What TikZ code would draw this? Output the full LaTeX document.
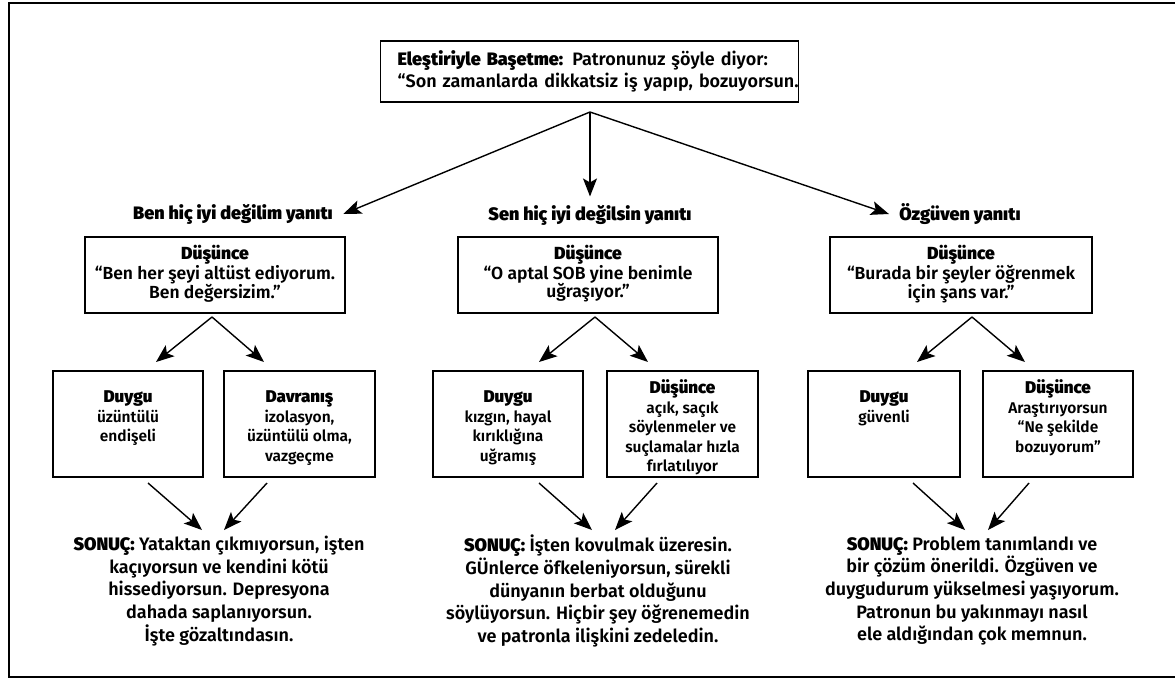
\documentclass[tikz,border=0pt]{standalone}
\usepackage{fontspec}
\IfFontExistsTF{Fira Sans SemiBold}{%
  \IfFontExistsTF{Fira Sans Black}{%
    \setmainfont{Fira Sans SemiBold}[BoldFont={Fira Sans Black}]}{%
    \setmainfont{Fira Sans SemiBold}[BoldFont={Fira Sans Bold}]}}{%
  \setmainfont{Fira Sans}[UprightFeatures={FakeBold=1.5}]}
\usetikzlibrary{arrows.meta,calc}
\newcommand{\inbox}[4]{\begin{minipage}[c][#1][t]{#2}\centering\vspace*{#3}#4\end{minipage}}
\newcommand{\hd}[1]{{\fontsize{17}{19.5}\selectfont\bfseries #1}}
\begin{document}
\begin{tikzpicture}[x=1pt,y=-1pt,
  arr/.style={line width=1.4pt, -{Stealth[length=18pt,width=14pt,inset=4pt]}},
  box/.style={draw, line width=1.4pt, inner sep=0pt},
  lab/.style={font=\fontsize{18}{21}\selectfont\bfseries},
  thought/.style={box, font=\fontsize{17.5}{18.5}\selectfont},
  small/.style={box, font=\fontsize{15.5}{19.5}\selectfont},
  res/.style={align=center, font=\fontsize{18}{22.7}\selectfont}]
\useasboundingbox (0,0) rectangle (1175,678);
\draw[line width=2pt] (9,3) rectangle (1180,677);

% title
\node[box, anchor=west, text width=418pt, minimum height=61pt, align=left,
      font=\fontsize{18}{22}\selectfont] (top) at (380,71.5)
  {\hspace*{17pt}\mbox{\textbf{Eleştiriyle Başetme:} Patronunuz şöyle diyor:}\\
   \hspace*{17pt}\mbox{“Son zamanlarda dikkatsiz iş yapıp, bozuyorsun.}};
\coordinate (apex) at (590,112);

% response labels
\node[lab] (l1) at (233,214) {Ben hiç iyi değilim yanıtı};
\node[lab] (l2) at (590,215) {Sen hiç iyi değilsin yanıtı};
\node[lab] (l3) at (960,214) {Özgüven yanıtı};
\draw[arr] (apex) -- ([xshift=7pt]l1.east);
\draw[arr] (apex) -- ([yshift=5pt]l2.north);
\draw[arr] (apex) -- ([xshift=-7pt]l3.west);

% thought boxes
\node[thought] (t1) at (215,275) {\inbox{76pt}{260pt}{8pt}{\textbf{Düşünce}\\“Ben her şeyi altüst ediyorum.\\Ben değersizim.”}};
\node[thought] (t2) at (588,275) {\inbox{76pt}{260pt}{8pt}{\textbf{Düşünce}\\“O aptal SOB yine benimle\\uğraşıyor.”}};
\node[thought] (t3) at (961,275) {\inbox{76pt}{262pt}{8pt}{\textbf{Düşünce}\\“Burada bir şeyler öğrenmek\\için şans var.”}};

% lower boxes
\node[small] (a1) at (128,424) {\inbox{106pt}{150pt}{20pt}{\hd{Duygu}\\üzüntülü\\endişeli}};
\node[small] (a2) at (299.5,424) {\inbox{106pt}{151pt}{20pt}{\hd{Davranış}\\izolasyon,\\üzüntülü olma,\\vazgeçme}};
\node[small] (b1) at (508,424) {\inbox{106pt}{150pt}{20pt}{\hd{Duygu}\\kızgın, hayal\\kırıklığına\\uğramış}};
\node[small] (b2) at (682.5,424) {\inbox{106pt}{151pt}{9pt}{\hd{Düşünce}\\açık, saçık\\söylenmeler ve\\suçlamalar hızla\\fırlatılıyor}};
\node[small] (c1) at (884,424) {\inbox{106pt}{152pt}{20pt}{\hd{Duygu}\\güvenli}};
\node[small] (c2) at (1058,424) {\inbox{106pt}{150pt}{9pt}{\hd{Düşünce}\\Araştırıyorsun\\“Ne şekilde\\bozuyorum”}};

% branch arrows
\coordinate (ta) at (212,317);
\coordinate (tb) at (595,317);
\coordinate (tc) at (972,317);
\coordinate (a1n) at (156,362);
\coordinate (a2n) at (264,362);
\coordinate (b1n) at (539,362);
\coordinate (b2n) at (648,362);
\coordinate (c1n) at (917,362);
\coordinate (c2n) at (1025,362);
\draw[arr] (ta) -- (a1n);
\draw[arr] (ta) -- (a2n);
\draw[arr] (tb) -- (b1n);
\draw[arr] (tb) -- (b2n);
\draw[arr] (tc) -- (c1n);
\draw[arr] (tc) -- (c2n);

% results
\node[res] (r1) at (219,591) {\textbf{SONUÇ:} Yataktan çıkmıyorsun, işten\\kaçıyorsun ve kendini kötü\\hissediyorsun. Depresyona\\dahada saplanıyorsun.\\İşte gözaltındasın.};
\node[res] (r2) at (598,591) {\textbf{SONUÇ:} İşten kovulmak üzeresin.\\GÜnlerce öfkeleniyorsun, sürekli\\dünyanın berbat olduğunu\\söylüyorsun. Hiçbir şey öğrenemedin\\ve patronla ilişkini zedeledin.};
\node[res] (r3) at (972,591) {\textbf{SONUÇ:} Problem tanımlandı ve\\bir çözüm önerildi. Özgüven ve\\duygudurum yükselmesi yaşıyorum.\\Patronun bu yakınmayı nasıl\\ele aldığından çok memnun.};

\coordinate (a1s) at (148,483);
\coordinate (a2s) at (267,483);
\coordinate (b1s) at (539,483);
\coordinate (b2s) at (657,483);
\coordinate (c1s) at (913,483);
\coordinate (c2s) at (1029,483);
\coordinate (r1a) at (202,530);
\coordinate (r1b) at (224,530);
\coordinate (r2a) at (592,530);
\coordinate (r2b) at (615,530);
\coordinate (r3a) at (965,530);
\coordinate (r3b) at (988,530);
\draw[arr] (a1s) -- (r1a);
\draw[arr] (a2s) -- (r1b);
\draw[arr] (b1s) -- (r2a);
\draw[arr] (b2s) -- (r2b);
\draw[arr] (c1s) -- (r3a);
\draw[arr] (c2s) -- (r3b);
\end{tikzpicture}
\end{document}
